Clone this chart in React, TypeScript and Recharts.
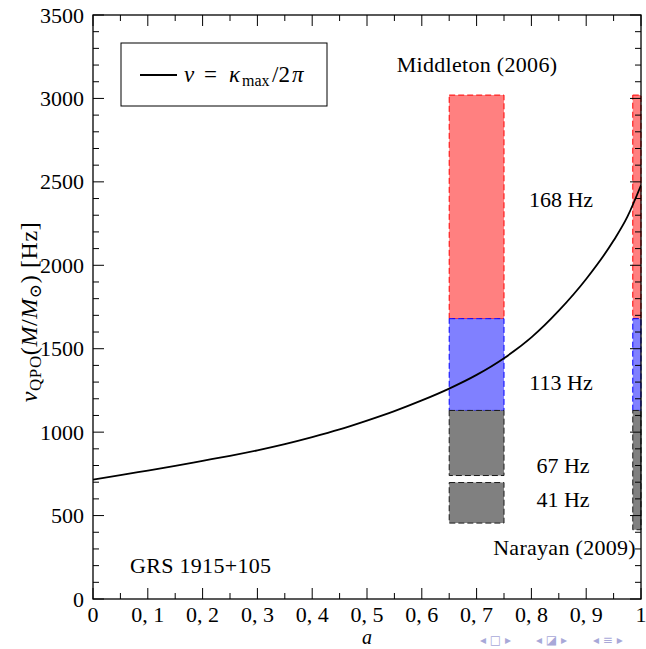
import React from 'react';
import { ComposedChart, Line, XAxis, YAxis, ReferenceArea } from 'recharts';

// spin parameter a and curve values nu = kappa_max / 2pi (Hz, M/Msun units)
const spinA = [0, 0.05, 0.1, 0.15, 0.2, 0.25, 0.3, 0.35, 0.4, 0.45, 0.5, 0.55, 0.6, 0.65, 0.7, 0.75, 0.8, 0.85, 0.9, 0.95, 0.975, 1.0];
const nuMax = [715, 742, 770, 798, 828, 858, 891, 928, 970, 1016, 1069, 1126, 1190, 1261, 1343, 1443, 1568, 1728, 1918, 2148, 2290, 2480];

// Middleton (2006) bands
const middletonRange = [0.65, 0.75];
const middletonLow = [1680, 1130, 740, 455];
const middletonHigh = [3020, 1680, 1130, 698];
const middletonKind = ['red', 'blue', 'gray', 'gray'];
const bandLabels = ['168 Hz', '113 Hz', '67 Hz', '41 Hz'];

// Narayan (2009) bands
const narayanRange = [0.985, 1.0];
const narayanLow = [1680, 1130, 415];
const narayanHigh = [3020, 1680, 1130];
const narayanKind = ['red', 'blue', 'gray'];

const xTicks = [0, 0.05, 0.1, 0.15, 0.2, 0.25, 0.3, 0.35, 0.4, 0.45, 0.5, 0.55, 0.6, 0.65, 0.7, 0.75, 0.8, 0.85, 0.9, 0.95, 1];
const xTickLabels = ['0', '', '0, 1', '', '0, 2', '', '0, 3', '', '0, 4', '', '0, 5', '', '0, 6', '', '0, 7', '', '0, 8', '', '0, 9', '', '1'];
const yTicks = [0, 100, 200, 300, 400, 500, 600, 700, 800, 900, 1000, 1100, 1200, 1300, 1400, 1500, 1600, 1700, 1800, 1900, 2000, 2100, 2200, 2300, 2400, 2500, 2600, 2700, 2800, 2900, 3000, 3100, 3200, 3300, 3400, 3500];
const yMajor = [0, 500, 1000, 1500, 2000, 2500, 3000, 3500];

const data = spinA.map((a, i) => ({ a, nu: nuMax[i] }));

const FONT = '"Liberation Serif", "DejaVu Serif", serif';
const FS = 22;

const W = 646;
const H = 649;
const MARGIN = { top: 15, right: 5, bottom: 20, left: 33 };
const PLOT_TOP = MARGIN.top;
const PLOT_RIGHT = W - MARGIN.right;

const colors: Record<string, { fill: string; stroke: string }> = {
  red: { fill: '#ff8080', stroke: '#ff0000' },
  blue: { fill: '#8080ff', stroke: '#0000ff' },
  gray: { fill: '#808080', stroke: '#1a1a1a' },
};

const BottomTick = (props: any) => {
  const { x, y, index } = props;
  const label = xTickLabels[index];
  const major = label !== '';
  const len = major ? 11 : 6;
  return (
    <g>
      <line x1={x} y1={y} x2={x} y2={y - len} stroke="#000" strokeWidth={1} />
      <line x1={x} y1={PLOT_TOP} x2={x} y2={PLOT_TOP + len} stroke="#000" strokeWidth={1} />
      {major && (
        <text x={x} y={y + 23} textAnchor="middle" fontFamily={FONT} fontSize={FS} fill="#000">
          {label}
        </text>
      )}
    </g>
  );
};

const LeftTick = (props: any) => {
  const { x, y, payload } = props;
  const major = yMajor.includes(payload.value);
  const len = major ? 11 : 6;
  return (
    <g>
      <line x1={x} y1={y} x2={x + len} y2={y} stroke="#000" strokeWidth={1} />
      <line x1={PLOT_RIGHT} y1={y} x2={PLOT_RIGHT - len} y2={y} stroke="#000" strokeWidth={1} />
      {major && (
        <text x={x - 9} y={y + 7.5} textAnchor="end" fontFamily={FONT} fontSize={FS} fill="#000">
          {payload.value}
        </text>
      )}
    </g>
  );
};

export default function App() {
  const bands: any[] = [];
  middletonLow.forEach((lo, i) => {
    const c = colors[middletonKind[i]];
    bands.push(
      <ReferenceArea
        key={'m' + i}
        x1={middletonRange[0]}
        x2={middletonRange[1]}
        y1={lo}
        y2={middletonHigh[i]}
        fill={c.fill}
        fillOpacity={1}
        stroke={c.stroke}
        strokeDasharray="6 3"
        strokeWidth={1}
      />
    );
  });
  narayanLow.forEach((lo, i) => {
    const c = colors[narayanKind[i]];
    bands.push(
      <ReferenceArea
        key={'n' + i}
        x1={narayanRange[0]}
        x2={narayanRange[1]}
        y1={lo}
        y2={narayanHigh[i]}
        fill={c.fill}
        fillOpacity={1}
        stroke={c.stroke}
        strokeDasharray="6 3"
        strokeWidth={1}
      />
    );
  });

  const navStyle = { fontFamily: '"DejaVu Sans", sans-serif', fontSize: 12, fill: '#a8a8d8' };

  return (
    <div style={{ position: 'absolute', left: 0, top: 0, width: W, height: H, background: '#fff' }}>
      <ComposedChart width={W} height={H} data={data} margin={MARGIN}>
        {bands}
        <Line
          type="monotone"
          dataKey="nu"
          stroke="#000"
          strokeWidth={1.8}
          dot={false}
          activeDot={false}
          isAnimationActive={false}
        />
        <XAxis
          dataKey="a"
          type="number"
          domain={[0, 1]}
          ticks={xTicks}
          interval={0}
          height={30}
          tickSize={0}
          tickMargin={0}
          tickLine={false}
          axisLine={false}
          tick={<BottomTick />}
          allowDataOverflow
        />
        <YAxis
          type="number"
          domain={[0, 3500]}
          ticks={yTicks}
          interval={0}
          width={60}
          tickSize={0}
          tickMargin={0}
          tickLine={false}
          axisLine={false}
          tick={<LeftTick />}
          allowDataOverflow
        />
      </ComposedChart>
      <svg width={W} height={H} style={{ position: 'absolute', left: 0, top: 0, pointerEvents: 'none' }}>
        {/* plot frame */}
        <rect x={93} y={15} width={548} height={584} fill="none" stroke="#000" strokeWidth={1.3} />
        {/* legend */}
        <rect x={121} y={43} width={206} height={63} fill="#fff" stroke="#000" strokeWidth={1} />
        <line x1={140} y1={75} x2={177} y2={75} stroke="#000" strokeWidth={2} />
        <g fontFamily={FONT} fontSize={23} fill="#000">
          <text x={184} y={82} fontStyle="italic">ν</text>
          <text x={204} y={82}>=</text>
          <text x={229} y={82} fontStyle="italic">κ</text>
          <text x={242} y={86} fontSize={16}>max</text>
          <text x={272} y={82}>/2</text>
          <text x={292} y={82} fontStyle="italic">π</text>
        </g>
        <text
          transform="translate(37,312) rotate(-90)"
          textAnchor="middle"
          fontFamily={FONT}
          fontSize={24}
          letterSpacing={0.6}
          fill="#000"
        >
          <tspan fontStyle="italic">ν</tspan>
          <tspan fontSize={17} dy={4}>QPO</tspan>
          <tspan dy={-4}>(</tspan>
          <tspan fontStyle="italic">M</tspan>
          <tspan>/</tspan>
          <tspan fontStyle="italic">M</tspan>
          <tspan fontSize={17} dy={4}>⊙</tspan>
          <tspan dy={-4}>) [Hz]</tspan>
        </text>
        <text x={367} y={644} textAnchor="middle" fontFamily={FONT} fontSize={20} fontStyle="italic" fill="#000">
          a
        </text>
        <text x={477} y={72} textAnchor="middle" fontFamily={FONT} fontSize={FS} letterSpacing={0.3} fill="#000">
          Middleton (2006)
        </text>
        <text x={561} y={207} textAnchor="middle" fontFamily={FONT} fontSize={FS} fill="#000">
          {bandLabels[0]}
        </text>
        <text x={561} y={390} textAnchor="middle" fontFamily={FONT} fontSize={FS} fill="#000">
          {bandLabels[1]}
        </text>
        <text x={563} y={473} textAnchor="middle" fontFamily={FONT} fontSize={FS} fill="#000">
          {bandLabels[2]}
        </text>
        <text x={563} y={507} textAnchor="middle" fontFamily={FONT} fontSize={FS} fill="#000">
          {bandLabels[3]}
        </text>
        <text x={636} y={555} textAnchor="end" fontFamily={FONT} fontSize={FS} letterSpacing={0.3} fill="#000">
          Narayan (2009)
        </text>
        <text x={130} y={573} textAnchor="start" fontFamily={FONT} fontSize={FS} letterSpacing={0.3} fill="#000">
          GRS 1915+105
        </text>
        <text x={480} y={644} {...navStyle}>◂ □ ▸</text>
        <text x={536} y={644} {...navStyle}>◂ ◪ ▸</text>
        <text x={593} y={644} {...navStyle}>◂ ≡ ▸</text>
      </svg>
    </div>
  );
}
